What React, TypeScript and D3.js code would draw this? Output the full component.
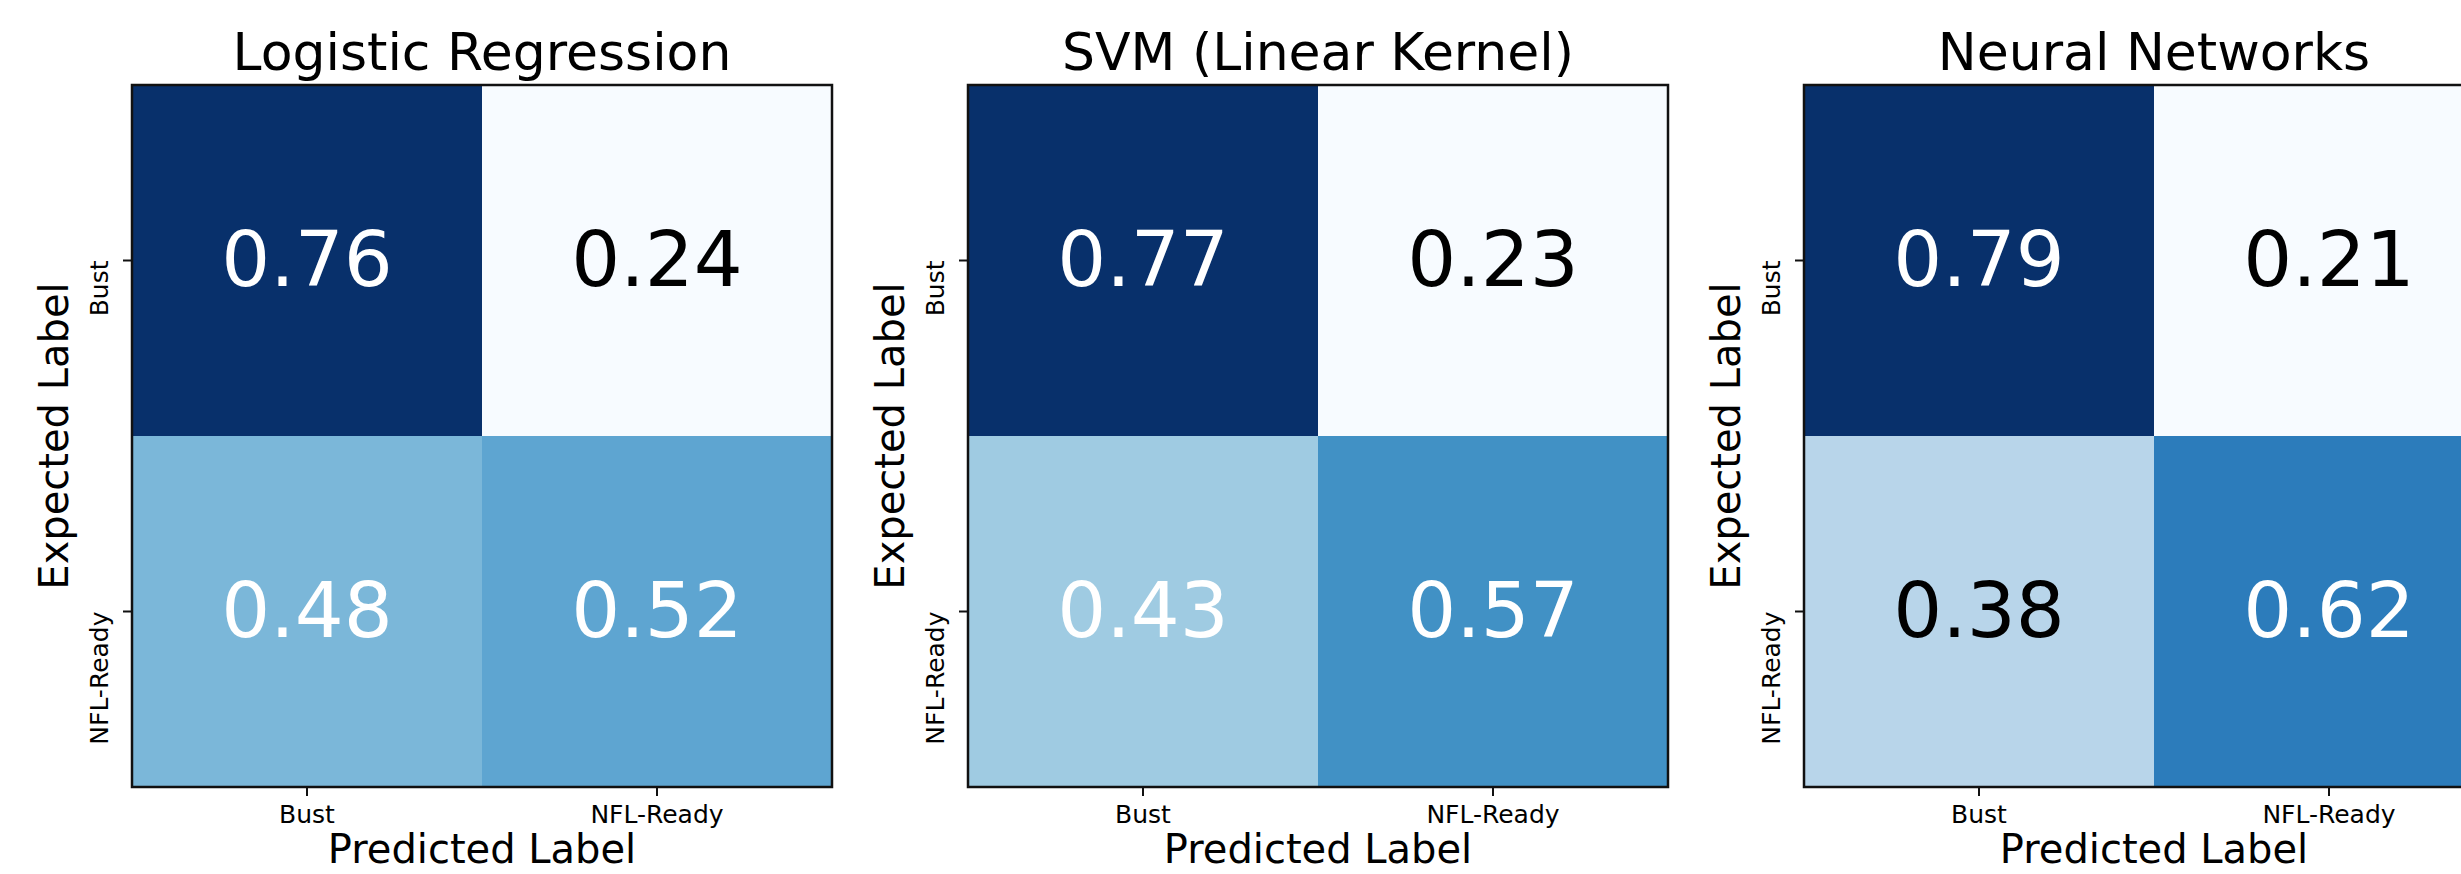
import React from "react";
import * as d3 from "d3";

const models = ["Logistic Regression", "SVM (Linear Kernel)", "Neural Networks"];
const classes = ["Bust", "NFL-Ready"];
const logisticValues = [
  [0.76, 0.24],
  [0.48, 0.52],
];
const svmValues = [
  [0.77, 0.23],
  [0.43, 0.57],
];
const nnValues = [
  [0.79, 0.21],
  [0.38, 0.62],
];
const matrices = [logisticValues, svmValues, nnValues];
const xAxisLabel = "Predicted Label";
const yAxisLabel = "Expected Label";

// matplotlib "Blues" anchor colours
const bluesStops = [
  "#f7fbff", "#deebf7", "#c6dbef", "#9ecae1", "#6baed6",
  "#4292c6", "#2171b5", "#08519c", "#08306b",
];

const W = 2461;
const H = 874;
const FONT = "'DejaVu Sans', Verdana, sans-serif";

const panelLeft = d3.scaleLinear().domain([0, 1]).range([132, 968]);
const panelW = 700;
const top = 85;
const bottom = 787;

const blues = d3
  .scaleLinear<string>()
  .domain(d3.range(bluesStops.length).map((i) => i / (bluesStops.length - 1)))
  .range(bluesStops)
  .interpolate(d3.interpolateRgb);

function Panel({ idx }: { idx: number }) {
  const m = matrices[idx];
  const left = panelLeft(idx);
  const right = left + panelW;
  const x = d3.scaleBand<string>().domain(classes).range([left, right]);
  const y = d3.scaleBand<string>().domain(classes).range([top, bottom]);
  const flat = m.flat();
  const mn = d3.min(flat) as number;
  const mx = d3.max(flat) as number;
  const norm = d3.scaleLinear().domain([mn, mx]).range([0, 1]);
  const thresh = mx / 2;
  const cx = (left + right) / 2;
  const cy = (top + bottom) / 2;
  const cells: React.ReactNode[] = [];
  const labels: React.ReactNode[] = [];
  classes.forEach((rowName, i) => {
    classes.forEach((colName, j) => {
      const v = m[i][j];
      cells.push(
        <rect
          key={`c${i}${j}`}
          x={x(colName)}
          y={y(rowName)}
          width={x.bandwidth() + 0.5}
          height={y.bandwidth() + 0.5}
          fill={blues(norm(v))}
        />
      );
      labels.push(
        <text
          key={`t${i}${j}`}
          x={(x(colName) as number) + x.bandwidth() / 2}
          y={(y(rowName) as number) + y.bandwidth() / 2}
          dy="0.33em"
          textAnchor="middle"
          fontSize={77}
          fontFamily={FONT}
          fill={v > thresh ? "#ffffff" : "#000000"}
        >
          {v.toFixed(2)}
        </text>
      );
    });
  });
  return (
    <g>
      <text x={cx} y={70} textAnchor="middle" fontSize={52} fontFamily={FONT} fill="#000">
        {models[idx]}
      </text>
      {cells}
      {labels}
      <rect x={left} y={top} width={panelW} height={bottom - top} fill="none" stroke="#111" strokeWidth={2.5} />
      {classes.map((c) => {
        const tx = (x(c) as number) + x.bandwidth() / 2;
        return (
          <g key={`xt${c}`}>
            <line x1={tx} x2={tx} y1={bottom} y2={bottom + 9} stroke="#111" strokeWidth={2} />
            <text x={tx} y={bottom + 36} textAnchor="middle" fontSize={25} fontFamily={FONT} fill="#000">
              {c}
            </text>
          </g>
        );
      })}
      {classes.map((c) => {
        const ty = (y(c) as number) + y.bandwidth() / 2;
        return (
          <g key={`yt${c}`}>
            <line x1={left - 9} x2={left} y1={ty} y2={ty} stroke="#111" strokeWidth={2} />
            <text
              transform={`translate(${left - 24},${ty}) rotate(-90)`}
              textAnchor="end"
              fontSize={25}
              fontFamily={FONT}
              fill="#000"
            >
              {c}
            </text>
          </g>
        );
      })}
      <text x={cx} y={863} textAnchor="middle" fontSize={40} fontFamily={FONT} fill="#000">
        {xAxisLabel}
      </text>
      <text
        transform={`translate(${left - 64},${cy}) rotate(-90)`}
        textAnchor="middle"
        fontSize={40}
        fontFamily={FONT}
        fill="#000"
      >
        {yAxisLabel}
      </text>
    </g>
  );
}

export default function App() {
  return (
    <div style={{ position: "fixed", left: 0, top: 0, width: W, height: H, overflow: "hidden", background: "#fff" }}>
      <svg width={W} height={H} viewBox={`0 0 ${W} ${H}`} style={{ display: "block" }}>
        <rect width={W} height={H} fill="#fff" />
        {models.map((_, i) => (
          <Panel key={i} idx={i} />
        ))}
      </svg>
    </div>
  );
}
